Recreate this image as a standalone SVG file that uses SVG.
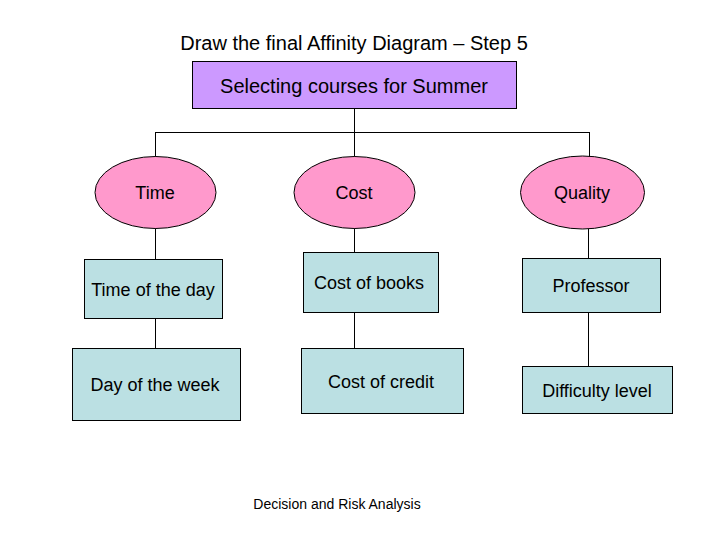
<svg xmlns="http://www.w3.org/2000/svg" width="720" height="540" viewBox="0 0 720 540">
<style>
text{font-family:"Liberation Sans",Arial,sans-serif;fill:#000;text-anchor:middle}
.t{font-size:20px}
.n{font-size:18px}
.f{font-size:14px}
.root{fill:#CC99FF;stroke:#000;stroke-width:1}
.cat{fill:#FF99CC;stroke:#000;stroke-width:1}
.box{fill:#BBE0E3;stroke:#000;stroke-width:1}
.c{stroke:#000;stroke-width:1;fill:none}
</style>
<rect width="720" height="540" fill="#fff"/>
<text class="t" x="354" y="50">Draw the final Affinity Diagram – Step 5</text>
<g id="connectors">
<path class="c" d="M354.5 108V157M155.5 132.5H589.5M155.5 132V157M589.5 132V157"/>
<path class="c" d="M155.5 228V259M155.5 318V348"/>
<path class="c" d="M354.5 228V252M354.5 312V348"/>
<path class="c" d="M588.5 229V258M588.5 312V366"/>
</g>
<g id="root"><rect class="root" x="192.5" y="61.5" width="324" height="47"/><text class="t" x="354" y="93">Selecting courses for Summer</text></g>
<g id="time"><ellipse class="cat" cx="155.5" cy="192.5" rx="60.5" ry="36"/><text class="n" x="155" y="199">Time</text></g>
<g id="cost"><ellipse class="cat" cx="354.5" cy="192.5" rx="60.5" ry="36"/><text class="n" x="354" y="199">Cost</text></g>
<g id="quality"><ellipse class="cat" cx="582.5" cy="192.5" rx="62" ry="36.5"/><text class="n" x="582" y="199">Quality</text></g>
<g id="timeofday"><rect class="box" x="84.5" y="259.5" width="138" height="59"/><text class="n" x="153" y="296">Time of the day</text></g>
<g id="dayofweek"><rect class="box" x="72.5" y="348.5" width="168" height="72"/><text class="n" x="155" y="391">Day of the week</text></g>
<g id="costbooks"><rect class="box" x="303.5" y="252.5" width="135" height="60"/><text class="n" x="369" y="289">Cost of books</text></g>
<g id="costcredit"><rect class="box" x="301.5" y="348.5" width="162" height="65"/><text class="n" x="381" y="388">Cost of credit</text></g>
<g id="professor"><rect class="box" x="522.5" y="258.5" width="138" height="54"/><text class="n" x="591" y="292">Professor</text></g>
<g id="difficulty"><rect class="box" x="522.5" y="366.5" width="150" height="47"/><text class="n" x="597" y="397">Difficulty level</text></g>
<text class="f" x="337" y="509">Decision and Risk Analysis</text>
</svg>
